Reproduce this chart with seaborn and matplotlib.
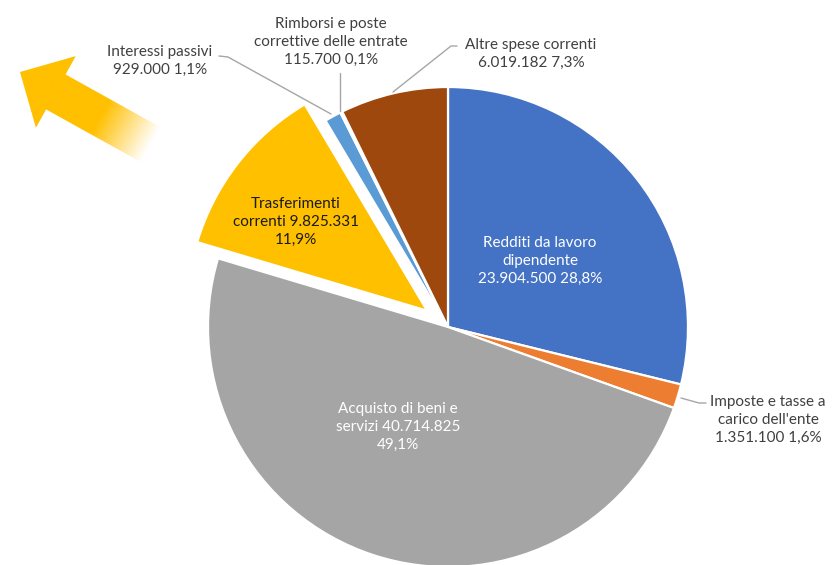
import numpy as np
import matplotlib
matplotlib.use('Agg')
import matplotlib.pyplot as plt
import seaborn as sns
from matplotlib.patches import Polygon

# spese correnti per voce (euro)
categories = ['Redditi da lavoro\ndipendente', 'Imposte e tasse a\ncarico dell\'ente',
              'Acquisto di beni e\nservizi', 'Trasferimenti\ncorrenti',
              'Interessi passivi', 'Rimborsi e poste\ncorrettive delle entrate',
              'Altre spese correnti']
label_sep = ['\n', '\n', ' ', ' ', '\n', '\n', '\n']
pct_sep = [' ', ' ', '\n', '\n', ' ', ' ', ' ']
values = [23904500, 1351100, 40714825, 9825331, 929000, 115700, 6019182]
colors = ['#4472C4', '#ED7D31', '#A5A5A5', '#FFC000', '#5B9BD5', '#70AD47', '#9E480E']
explode = [0, 0, 0, 0.11, 0, 0, 0]

sns.set_theme(style='white')
plt.rcParams['font.family'] = ['Lato', 'DejaVu Sans']

# pixel -> data (pie centre at 448,327 px, radius 240 px)
CX, CY, R = 448, 327, 240
def px(x, y):
    return (x - CX) / R, (CY - y) / R

fig = plt.figure(figsize=(8.34, 5.65), dpi=100)
ax = fig.add_axes([0, 0, 1, 1])

ax.pie(values, colors=colors, startangle=90, counterclock=False, explode=explode,
       radius=1, wedgeprops=dict(edgecolor='white', linewidth=1.6))
ax.set_aspect('auto')
ax.axis('off')

def fmt(v):
    return f'{v:,}'.replace(',', '.')

total = sum(values)
labels = []
for name, s1, s2, v in zip(categories, label_sep, pct_sep, values):
    pct = f'{100 * v / total:.1f}'.replace('.', ',') + '%'
    labels.append(name + s1 + fmt(v) + s2 + pct)

# label placement (px) and colour
label_pos = [(540, 261), (768, 420), (398, 427), (296, 222), (160, 61), (331, 42), (531, 54)]
label_col = ['white', '#404040', 'white', '#1a1a1a', '#404040', '#404040', '#404040']
for lab, (x, y), c in zip(labels, label_pos, label_col):
    ax.text(*px(x, y), lab, ha='center', va='center', fontsize=11, color=c,
            linespacing=1.35, zorder=5)

# leader lines
leaders = [
    [(219, 56), (228, 57), (331, 114)],
    [(340, 73), (340, 111)],
    [(457, 46), (451, 46), (393, 92)],
    [(706, 403), (699, 403), (681, 398)],
]
for pts in leaders:
    xy = np.array([px(*p) for p in pts])
    ax.plot(xy[:, 0], xy[:, 1], color='#A6A6A6', lw=1, zorder=4)

# decorative arrow with fading tail
tip = np.array([20.0, 72.0])
d = np.array([0.874, 0.486])
n = np.array([-0.486, 0.874])
hl, hw, sw, L = 41, 41, 20, 175
shape = [(0, 0), (hl, -hw), (hl, -sw), (L, -sw), (L, sw), (hl, sw), (hl, hw)]
poly_px = [tip + a * d + b * n for a, b in shape]
poly = Polygon([px(*p) for p in poly_px], closed=True, facecolor='none', edgecolor='none',
               transform=ax.transData)
ax.add_patch(poly)
xs = np.arange(0, 200)
ys = np.arange(20, 200)
gx, gy = np.meshgrid(xs, ys)
along = (gx - tip[0]) * d[0] + (gy - tip[1]) * d[1]
alpha = np.clip((150 - along) / (150 - 92), 0, 1)
img = np.zeros((len(ys), len(xs), 4))
img[..., :3] = matplotlib.colors.to_rgb('#FFC000')
img[..., 3] = alpha
x0, y1 = px(xs[0], ys[0])
x1, y0 = px(xs[-1], ys[-1])
im = ax.imshow(img, extent=(x0, x1, y0, y1), origin='upper', interpolation='bilinear',
               zorder=3, aspect='auto')
im.set_clip_path(poly)
ax.set_xlim(px(0, 0)[0], px(834, 0)[0])
ax.set_ylim(px(0, 565)[1], px(0, 0)[1])

plt.savefig('out.png', dpi=100)
